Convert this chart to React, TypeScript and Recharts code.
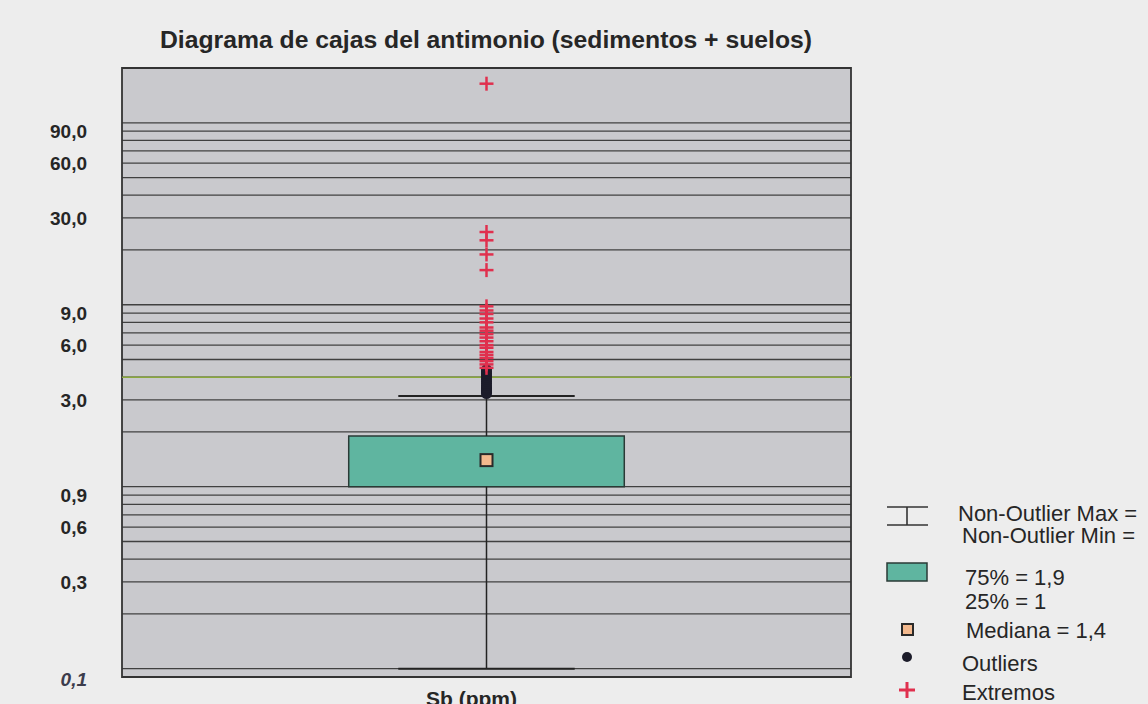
import React from "react";
import { ComposedChart, CartesianGrid, XAxis, YAxis, Scatter, ReferenceArea, ReferenceLine } from "recharts";

// axis
const gridValues = [
  0.1, 0.2, 0.3, 0.4, 0.5, 0.6, 0.7, 0.8, 0.9,
  1, 2, 3, 4, 5, 6, 7, 8, 9,
  10, 20, 30, 40, 50, 60, 70, 80, 90, 100,
];
const labelValues = [0.1, 0.3, 0.6, 0.9, 3, 6, 9, 30, 60, 90];
const categories = ["Sb (ppm)"];

// box stats
const whiskerMin = 0.1;
const q1 = 1;
const median = 1.4;
const q3 = 1.9;
const whiskerMax = 3.15;
const threshold = 4;

const outliers = [3.25, 3.3, 3.35, 3.4, 3.45, 3.5, 3.6, 3.7, 3.8, 3.9, 4.0, 4.1, 4.2, 4.3, 4.4];
const extremes = [
  164, 25.1, 22.6, 18.9, 15.5, 9.8, 9.3, 8.9, 8.4, 8.0, 7.5, 7.2, 6.9, 6.6,
  6.3, 6.0, 5.8, 5.5, 5.3, 5.1, 4.9, 4.7, 4.5,
];

const CENTER = 0.5;
const BOX_HALF = 0.189;
const CAP_HALF = 0.121;

const FONT = '"Liberation Sans", Arial, sans-serif';
const INK = "#262626";
const TEAL = "#5fb5a0";
const RED = "#e0304e";

const fmt = (v: number) => v.toFixed(1).replace(".", ",");

function YTick(props: any) {
  const { y, payload } = props;
  const v = payload.value;
  if (!labelValues.includes(v)) return null;
  const low = v === 0.1;
  return (
    <text
      x={87}
      y={low ? y + 10 : y}
      dy="0.36em"
      textAnchor="end"
      fontFamily={FONT}
      fontSize={19}
      fontWeight="bold"
      fontStyle={low ? "italic" : "normal"}
      fill={low ? "#3c3c4c" : INK}
    >
      {fmt(v)}
    </text>
  );
}

function XTick(props: any) {
  const { x } = props;
  return (
    <text x={x - 15} y={706} textAnchor="middle" fontFamily={FONT} fontSize={21} fontWeight="bold" fill={INK}>
      {categories[0]}
    </text>
  );
}

const Plus = (props: any) => {
  const { cx, cy } = props;
  return (
    <g stroke={RED} strokeWidth={2.5}>
      <line x1={cx - 7} y1={cy} x2={cx + 7} y2={cy} />
      <line x1={cx} y1={cy - 7} x2={cx} y2={cy + 7} />
    </g>
  );
};

const Dot = (props: any) => <circle cx={props.cx} cy={props.cy} r={5.5} fill="#1c1c2a" />;

const MedianMark = (props: any) => (
  <rect x={props.cx - 6} y={props.cy - 6} width={12} height={12} fill="#f3b98e" stroke="#2a2a2a" strokeWidth={2} />
);

function Legend() {
  const t = { fontFamily: FONT, fontSize: 22, fill: INK } as const;
  return (
    <svg width={1148} height={704} style={{ position: "absolute", left: 0, top: 0, pointerEvents: "none" }}>
      <text x={486} y={48} textAnchor="middle" fontFamily={FONT} fontSize={23} fontWeight="bold" fill={INK} textLength={652} lengthAdjust="spacingAndGlyphs">
        Diagrama de cajas del antimonio (sedimentos + suelos)
      </text>
      <g stroke="#333" strokeWidth={1.6}>
        <line x1={887} y1={507} x2={928} y2={507} />
        <line x1={887} y1={525} x2={928} y2={525} />
        <line x1={907} y1={507} x2={907} y2={525} />
      </g>
      <text x={958} y={521} {...t}>Non-Outlier Max =</text>
      <text x={962} y={543} {...t}>Non-Outlier Min =</text>
      <rect x={887} y={563} width={40} height={18} fill={TEAL} stroke="#2a3a36" strokeWidth={1.5} />
      <text x={965} y={585} {...t}>75% = 1,9</text>
      <text x={965} y={609} {...t}>25% = 1</text>
      <rect x={902} y={624} width={11} height={11} fill="#f3b98e" stroke="#2a2a2a" strokeWidth={2} />
      <text x={966} y={638} {...t}>Mediana = 1,4</text>
      <circle cx={907} cy={657} r={5} fill="#1c1c2a" />
      <text x={962} y={671} {...t}>Outliers</text>
      <g stroke={RED} strokeWidth={3}>
        <line x1={899} y1={690} x2={915} y2={690} />
        <line x1={907} y1={682} x2={907} y2={698} />
      </g>
      <text x={962} y={700} {...t}>Extremos</text>
    </svg>
  );
}

export default function App() {
  const outlierPts = outliers.map((y) => ({ x: CENTER, y }));
  const extremePts = extremes.map((y) => ({ x: CENTER, y }));
  const medianPts = [{ x: CENTER, y: median }];

  return (
    <div style={{ position: "absolute", left: 0, top: 0, width: 1148, height: 704, background: "#ededed", overflow: "hidden" }}>
      <ComposedChart width={1148} height={704} margin={{ top: 68, right: 297, bottom: 0, left: 0 }}>
        <CartesianGrid vertical={false} stroke="#404040" strokeWidth={1.3} fill="#c9c9cd" fillOpacity={1} />
        <XAxis
          type="number"
          dataKey="x"
          domain={[0, 1]}
          ticks={[CENTER]}
          height={27}
          tickLine={false}
          axisLine={false}
          tick={<XTick />}
          allowDataOverflow
        />
        <YAxis
          type="number"
          dataKey="y"
          scale="log"
          domain={[0.09, 200]}
          ticks={gridValues}
          interval={0}
          allowDataOverflow
          tickLine={false}
          axisLine={false}
          width={122}
          tick={<YTick />}
        />
        <ReferenceLine y={threshold} stroke="#8aa83c" strokeWidth={1.5} />
        <ReferenceArea x1={0} x2={1} y1={0.09} y2={200} fill="none" stroke="#333" strokeWidth={1.8} />
        <ReferenceLine segment={[{ x: CENTER, y: whiskerMin }, { x: CENTER, y: q1 }]} stroke="#222" strokeWidth={1.5} />
        <ReferenceLine segment={[{ x: CENTER, y: q3 }, { x: CENTER, y: whiskerMax }]} stroke="#222" strokeWidth={1.5} />
        <ReferenceLine segment={[{ x: CENTER - CAP_HALF, y: whiskerMin }, { x: CENTER + CAP_HALF, y: whiskerMin }]} stroke="#222" strokeWidth={2} />
        <ReferenceLine segment={[{ x: CENTER - CAP_HALF, y: whiskerMax }, { x: CENTER + CAP_HALF, y: whiskerMax }]} stroke="#222" strokeWidth={2} />
        <ReferenceArea x1={CENTER - BOX_HALF} x2={CENTER + BOX_HALF} y1={q1} y2={q3} fill={TEAL} fillOpacity={1} stroke="#2a3a36" strokeWidth={1.5} />
        <Scatter data={outlierPts} dataKey="y" shape={Dot} isAnimationActive={false} />
        <Scatter data={extremePts} dataKey="y" shape={Plus} isAnimationActive={false} />
        <Scatter data={medianPts} dataKey="y" shape={MedianMark} isAnimationActive={false} />
      </ComposedChart>
      <Legend />
    </div>
  );
}
